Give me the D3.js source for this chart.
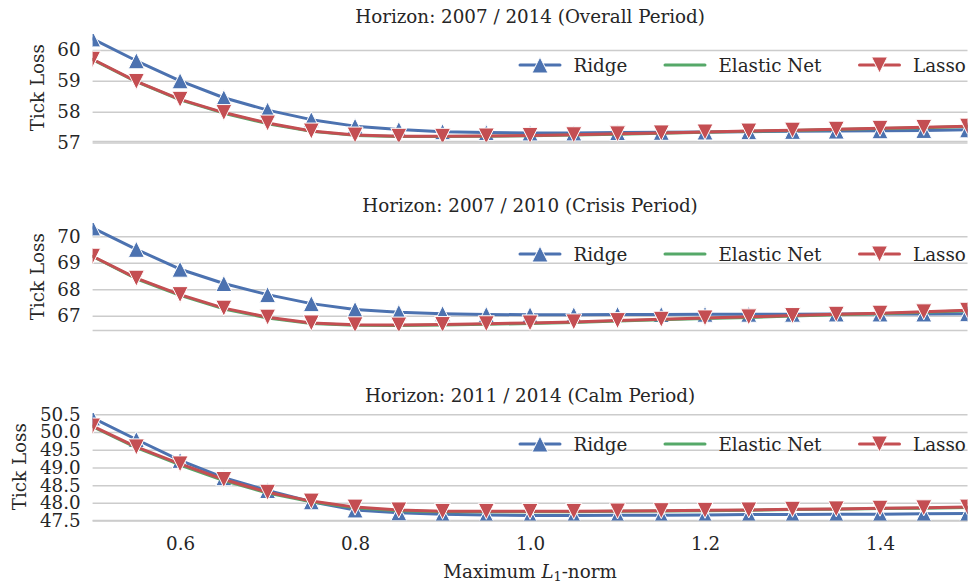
<!DOCTYPE html>
<html>
<head>
<meta charset="utf-8">
<script src="https://cdn.jsdelivr.net/npm/d3@7"></script>
<style>
  html, body { margin: 0; padding: 0; background: #ffffff; }
  svg { display: block; font-family: "DejaVu Serif", serif; }
</style>
</head>
<body>
<svg id="chart" width="970" height="587"></svg>
<script>
// Maximum L1-norm grid
const l1Norm = [0.5, 0.55, 0.6, 0.65, 0.7, 0.75, 0.8, 0.85, 0.9, 0.95, 1.0,
                1.05, 1.1, 1.15, 1.2, 1.25, 1.3, 1.35, 1.4, 1.45, 1.5];

const seriesNames = ["Ridge", "Elastic Net", "Lasso"];

// Horizon 2007 / 2014
const ridgeOverall   = [60.36, 59.65, 59.00, 58.45, 58.05, 57.74, 57.53, 57.42, 57.35, 57.32, 57.31,
                        57.31, 57.32, 57.33, 57.34, 57.35, 57.36, 57.37, 57.38, 57.39, 57.41];
const elasticOverall = [59.69, 58.97, 58.38, 57.95, 57.61, 57.36, 57.23, 57.19, 57.19, 57.20, 57.22,
                        57.24, 57.27, 57.30, 57.33, 57.36, 57.39, 57.42, 57.45, 57.48, 57.52];
const lassoOverall   = [59.70, 58.98, 58.40, 57.97, 57.63, 57.37, 57.24, 57.20, 57.20, 57.21, 57.23,
                        57.25, 57.28, 57.31, 57.34, 57.37, 57.40, 57.43, 57.46, 57.49, 57.53];

// Horizon 2007 / 2010
const ridgeCrisis   = [70.32, 69.51, 68.76, 68.22, 67.80, 67.46, 67.24, 67.13, 67.08, 67.05, 67.04,
                       67.04, 67.05, 67.05, 67.06, 67.06, 67.06, 67.07, 67.07, 67.07, 67.08];
const elasticCrisis = [69.24, 68.40, 67.77, 67.26, 66.92, 66.71, 66.64, 66.63, 66.65, 66.68, 66.71,
                       66.75, 66.80, 66.85, 66.90, 66.94, 66.99, 67.04, 67.08, 67.13, 67.19];
const lassoCrisis   = [69.25, 68.42, 67.80, 67.29, 66.95, 66.73, 66.66, 66.65, 66.67, 66.70, 66.73,
                       66.77, 66.82, 66.87, 66.92, 66.96, 67.01, 67.06, 67.10, 67.15, 67.21];

// Horizon 2011 / 2014
const ridgeCalm   = [50.40, 49.79, 49.20, 48.71, 48.35, 48.03, 47.80, 47.72, 47.68, 47.66, 47.64,
                     47.64, 47.65, 47.65, 47.66, 47.67, 47.67, 47.68, 47.68, 47.69, 47.70];
const elasticCalm = [50.15, 49.56, 49.07, 48.63, 48.28, 48.03, 47.86, 47.78, 47.75, 47.75, 47.75,
                     47.75, 47.76, 47.77, 47.78, 47.79, 47.81, 47.82, 47.84, 47.85, 47.87];
const lassoCalm   = [50.17, 49.58, 49.10, 48.66, 48.30, 48.05, 47.88, 47.80, 47.76, 47.76, 47.76,
                     47.76, 47.77, 47.78, 47.79, 47.80, 47.82, 47.83, 47.85, 47.86, 47.88];

const panelTitles = [
  "Horizon: 2007 / 2014 (Overall Period)",
  "Horizon: 2007 / 2010 (Crisis Period)",
  "Horizon: 2011 / 2014 (Calm Period)"
];

const yTicksOverall = [57, 58, 59, 60];
const yTicksCrisis  = [67, 68, 69, 70];
const yTicksCalm    = [47.5, 48.0, 48.5, 49.0, 49.5, 50.0, 50.5];
const xTicks        = [0.6, 0.8, 1.0, 1.2, 1.4];

const panels = [
  { title: panelTitles[0], series: [ridgeOverall, elasticOverall, lassoOverall], ticks: yTicksOverall, fmt: d3.format("d") },
  { title: panelTitles[1], series: [ridgeCrisis, elasticCrisis, lassoCrisis],    ticks: yTicksCrisis,  fmt: d3.format("d") },
  { title: panelTitles[2], series: [ridgeCalm, elasticCalm, lassoCalm],          ticks: yTicksCalm,    fmt: d3.format(".1f") }
];

const colors = ["#4C72B0", "#55A868", "#C44E52"];
const markers = ["up", null, "down"];
const textColor = "#262626";
const gridColor = "#cccccc";
const fontSize = 18.3;

const svg = d3.select("#chart");
const left = 92.6, right = 967.5;
const panelTops = [34, 223, 413];
const panelHeight = 107.5;

const x = d3.scaleLinear().domain([0.5, 1.5]).range([left, right]);

function trianglePath(dir, s) {
  const h = s / 2;
  return dir === "up"
    ? `M0,${-h}L${h},${h}L${-h},${h}Z`
    : `M0,${h}L${h},${-h}L${-h},${-h}Z`;
}

panels.forEach((p, i) => {
  const top = panelTops[i], bottom = top + panelHeight;
  const all = p.series.flat();
  const lo = d3.min(all), hi = d3.max(all), pad = (hi - lo) * 0.05;
  const y = d3.scaleLinear().domain([lo - pad, hi + pad]).range([bottom, top]);

  const g = svg.append("g");

  // horizontal grid
  g.append("g")
    .attr("transform", `translate(${left},0)`)
    .call(d3.axisLeft(y).tickValues(p.ticks).tickSize(-(right - left)).tickFormat(""))
    .call(a => a.select(".domain").remove())
    .call(a => a.selectAll("line").attr("stroke", gridColor).attr("stroke-width", 1.5));

  // bottom spine
  g.append("line")
    .attr("x1", left).attr("x2", right).attr("y1", bottom).attr("y2", bottom)
    .attr("stroke", gridColor).attr("stroke-width", 1.5);

  // y tick labels
  g.append("g")
    .attr("transform", `translate(${left},0)`)
    .call(d3.axisLeft(y).tickValues(p.ticks).tickSize(0).tickPadding(12).tickFormat(p.fmt))
    .call(a => a.select(".domain").remove())
    .call(a => a.selectAll("text")
      .attr("fill", textColor)
      .style("font-family", "DejaVu Serif")
      .style("font-size", fontSize + "px"));

  // y axis label
  const labelX = i === 2 ? 19 : 37;
  g.append("text")
    .attr("transform", `translate(${labelX},${(top + bottom) / 2}) rotate(-90)`)
    .attr("text-anchor", "middle")
    .attr("dominant-baseline", "central")
    .attr("fill", textColor)
    .style("font-size", fontSize + "px")
    .text("Tick Loss");

  // title
  g.append("text")
    .attr("x", (left + right) / 2)
    .attr("y", top - 10.7)
    .attr("text-anchor", "middle")
    .attr("fill", textColor)
    .style("font-size", fontSize + "px")
    .text(p.title);

  // series, clipped to the axes box
  const clipId = "clip" + i;
  svg.append("clipPath").attr("id", clipId)
    .append("rect").attr("x", left).attr("y", top)
    .attr("width", right - left).attr("height", panelHeight);

  const plot = g.append("g").attr("clip-path", `url(#${clipId})`);
  const line = d3.line().x((d, k) => x(l1Norm[k])).y(d => y(d));

  p.series.forEach((vals, s) => {
    const sg = plot.append("g");
    sg.append("path")
      .datum(vals)
      .attr("d", line)
      .attr("fill", "none")
      .attr("stroke", colors[s])
      .attr("stroke-width", 3)
      .attr("stroke-linejoin", "round")
      .attr("stroke-linecap", "round");
    if (markers[s]) {
      sg.selectAll("path.mk")
        .data(vals)
        .join("path")
        .attr("class", "mk")
        .attr("transform", (d, k) => `translate(${x(l1Norm[k])},${y(d)})`)
        .attr("d", trianglePath(markers[s], 16))
        .attr("fill", colors[s])
        .attr("stroke", "#ffffff")
        .attr("stroke-width", 1)
        .attr("stroke-linejoin", "miter");
    }
  });

  // legend
  const legY = top + 31;
  const legX = [520, 665, 859.5];
  seriesNames.forEach((name, s) => {
    const lg = g.append("g");
    lg.append("line")
      .attr("x1", legX[s]).attr("x2", legX[s] + 40)
      .attr("y1", legY).attr("y2", legY)
      .attr("stroke", colors[s]).attr("stroke-width", 3)
      .attr("stroke-linecap", "round");
    if (markers[s]) {
      lg.append("path")
        .attr("transform", `translate(${legX[s] + 20},${legY})`)
        .attr("d", trianglePath(markers[s], 16))
        .attr("fill", colors[s])
        .attr("stroke", "#ffffff").attr("stroke-width", 1);
    }
    lg.append("text")
      .attr("x", legX[s] + 53.5)
      .attr("y", legY)
      .attr("dominant-baseline", "central")
      .attr("fill", textColor)
      .style("font-size", fontSize + "px")
      .text(name);
  });

  // x tick labels on the lowest panel only
  if (i === 2) {
    g.append("g")
      .attr("transform", `translate(0,${bottom})`)
      .call(d3.axisBottom(x).tickValues(xTicks).tickSize(0).tickPadding(17).tickFormat(d3.format(".1f")))
      .call(a => a.select(".domain").remove())
      .call(a => a.selectAll("text")
        .attr("fill", textColor)
        .style("font-family", "DejaVu Serif")
        .style("font-size", fontSize + "px"));

    const xl = g.append("text")
      .attr("x", (left + right) / 2)
      .attr("y", 578)
      .attr("text-anchor", "middle")
      .attr("fill", textColor)
      .style("font-size", fontSize + "px");
    xl.append("tspan").text("Maximum ");
    xl.append("tspan").style("font-style", "italic").text("L");
    xl.append("tspan").attr("baseline-shift", "-25%").style("font-size", (fontSize * 0.7) + "px").text("1");
    xl.append("tspan").text("-norm");
  }
});
</script>
</body>
</html>
